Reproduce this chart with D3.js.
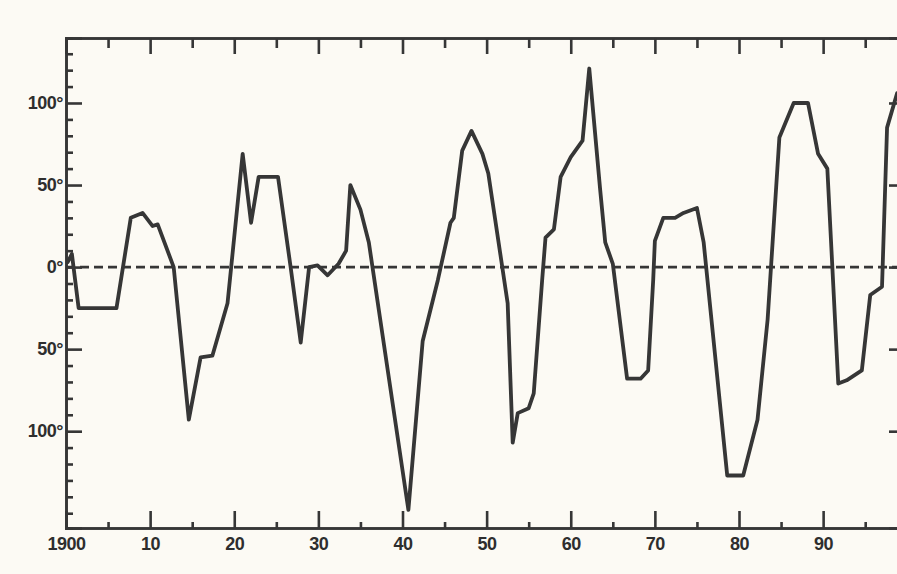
<!DOCTYPE html>
<html><head><meta charset="utf-8">
<script src="https://cdn.jsdelivr.net/npm/d3@7"></script>
<style>
body{margin:0;background:#fcfaf4;}
svg{display:block;}
</style></head><body>
<svg id="c" width="897" height="574"></svg>
<script>
// ---- data ----
const years = [1900.2,1900.7,1901.5,1906.0,1907.7,1909.1,1910.3,1910.9,1912.8,1914.6,1916.0,1917.4,1919.2,1921.0,1922.0,1922.9,1925.2,1926.7,1927.9,1928.9,1929.9,1931.1,1932.4,1933.3,1933.8,1935.0,1936.0,1940.7,1942.4,1944.2,1945.7,1946.1,1947.1,1948.2,1949.5,1950.2,1952.5,1953.1,1953.7,1955.0,1955.6,1956.6,1957.0,1958.0,1958.8,1960.0,1961.4,1962.2,1963.5,1964.1,1965.0,1966.7,1968.3,1969.2,1969.8,1970.0,1971.0,1972.4,1973.4,1975.0,1975.8,1978.6,1980.5,1982.2,1983.4,1984.8,1986.5,1988.2,1989.4,1990.5,1991.8,1992.8,1994.6,1995.6,1997.0,1997.6,1998.8];
const values = [3,8,-25,-25,30,33,25,26,0,-93,-55,-54,-22,69,27,55,55,0,-46,0,1,-5,2,10,50,35,15,-148,-45,-8,27,30,71,83,69,57,-22,-107,-89,-86,-77,-8,18,23,55,67,77,121,47,15,2,-68,-68,-63,-8,16,30,30,33,36,15,-127,-127,-93,-32,79,100,100,69,60,-71,-69,-63,-17,-12,85,106];
const xMajorTicks = [1900,1910,1920,1930,1940,1950,1960,1970,1980,1990];
const xTickLabels = ["1900","10","20","30","40","50","60","70","80","90"];
const xMinorTicks = [1905,1915,1925,1935,1945,1955,1965,1975,1985,1995];
const yMajorTicks = [-100,-50,0,50,100];
const yTickLabels = ["100°","50°","0°","50°","100°"];
const yMinorTicks = [-150,-140,-130,-120,-110,-90,-80,-70,-60,-40,-30,-20,-10,10,20,30,40,60,70,80,90,110,120,130];

// ---- layout ----
const L = 66, R = 898, T = 38, B = 528;
const svg = d3.select("#c");
const x = d3.scaleLinear().domain([1900, 1998.9]).range([L, R]);
const y = d3.scaleLinear().domain([-159, 139.6]).range([B, T]);
const ink = "#363636";

function styleAxis(g){
  g.selectAll("path.domain").attr("stroke", ink).attr("stroke-width", 2.6);
  g.selectAll(".tick line").attr("stroke", ink).attr("stroke-width", 2.6);
  g.selectAll(".tick text").attr("fill", "#2e2e2e")
    .style("font-family","Liberation Sans, Arial, sans-serif")
    .style("font-size","18px").style("font-weight","bold").style("letter-spacing","-0.5px");
}

// bottom axis
svg.append("g").attr("transform",`translate(0,${B})`)
  .call(d3.axisBottom(x).tickValues(xMinorTicks).tickSize(-6).tickFormat(""))
  .call(styleAxis);
svg.append("g").attr("transform",`translate(0,${B})`)
  .call(d3.axisBottom(x).tickValues(xMajorTicks).tickSize(-17).tickPadding(8)
    .tickFormat((d,i)=>xTickLabels[i]))
  .call(styleAxis)
  .call(g=>g.selectAll(".tick text").attr("y", 9).attr("dy","0.71em"));

// top axis
svg.append("g").attr("transform",`translate(0,${T})`)
  .call(d3.axisTop(x).tickValues(xMinorTicks).tickSize(-10).tickFormat(""))
  .call(styleAxis);
svg.append("g").attr("transform",`translate(0,${T})`)
  .call(d3.axisTop(x).tickValues(xMajorTicks).tickSize(-16).tickFormat(""))
  .call(styleAxis);

// left axis
svg.append("g").attr("transform",`translate(${L},0)`)
  .call(d3.axisLeft(y).tickValues(yMinorTicks).tickSize(-7).tickFormat(""))
  .call(styleAxis);
svg.append("g").attr("transform",`translate(${L},0)`)
  .call(d3.axisLeft(y).tickValues(yMajorTicks).tickSize(-16).tickPadding(3)
    .tickFormat((d,i)=>yTickLabels[i]))
  .call(styleAxis);

// right axis (mostly off the page)
svg.append("g").attr("transform",`translate(${R},0)`)
  .call(d3.axisRight(y).tickValues(yMajorTicks).tickSize(-9).tickFormat(""))
  .call(styleAxis);

// zero dashed line
svg.append("line")
  .attr("x1", L).attr("x2", R).attr("y1", y(0)).attr("y2", y(0))
  .attr("stroke", ink).attr("stroke-width", 2.6).attr("stroke-dasharray","9,5");

// data line
const data = years.map((yr,i)=>({yr, v: values[i]}));
svg.append("path").datum(data)
  .attr("fill","none").attr("stroke", ink).attr("stroke-width", 3.8)
  .attr("stroke-linejoin","round").attr("stroke-linecap","round")
  .attr("d", d3.line().x(d=>x(d.yr)).y(d=>y(d.v)));
</script>
</body></html>
